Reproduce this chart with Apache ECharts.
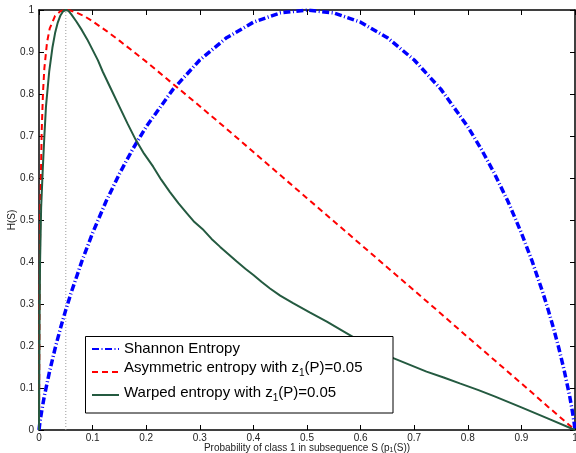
<!DOCTYPE html>
<html>
<head>
<meta charset="utf-8">
<script src="https://cdn.jsdelivr.net/npm/echarts@6/dist/echarts.min.js"></script>
<style>
html,body{margin:0;padding:0;background:#fff;}
#c{width:576px;height:453px;}
</style>
</head>
<body>
<div id="c"></div>
<script>
// ---- data ----
var seriesNames = ['Shannon Entropy', 'Asymmetric entropy with z1(P)=0.05', 'Warped entropy with z1(P)=0.05'];

var shannonX = [0, 0.002, 0.005, 0.01, 0.02, 0.03, 0.04, 0.05, 0.06, 0.08, 0.1, 0.125, 0.15, 0.175, 0.2, 0.25, 0.3, 0.35, 0.4, 0.45, 0.5,
                0.55, 0.6, 0.65, 0.7, 0.75, 0.8, 0.825, 0.85, 0.875, 0.9, 0.92, 0.94, 0.95, 0.96, 0.97, 0.98, 0.99, 0.995, 0.998, 1];
var shannonY = [0, 0.021, 0.045, 0.081, 0.141, 0.194, 0.242, 0.286, 0.327, 0.402, 0.469, 0.544, 0.610, 0.669, 0.722, 0.811, 0.881, 0.934, 0.971, 0.993, 1,
                0.993, 0.971, 0.934, 0.881, 0.811, 0.722, 0.669, 0.610, 0.544, 0.469, 0.402, 0.327, 0.286, 0.242, 0.194, 0.141, 0.081, 0.045, 0.021, 0];

var asymX = [0, 0.001, 0.0025, 0.005, 0.0075, 0.01, 0.015, 0.02, 0.03, 0.04, 0.05, 0.06, 0.07, 0.085, 0.1, 0.125, 0.15, 0.2, 0.25, 0.3, 0.35, 0.4,
             0.45, 0.5, 0.55, 0.6, 0.65, 0.7, 0.75, 0.8, 0.85, 0.9, 0.95, 1];
var asymY = [0, 0.294, 0.525, 0.711, 0.805, 0.861, 0.923, 0.956, 0.986, 0.997, 1, 0.998, 0.994, 0.985, 0.973, 0.951, 0.927, 0.877, 0.824, 0.771, 0.717, 0.662,
             0.607, 0.552, 0.497, 0.442, 0.387, 0.332, 0.277, 0.221, 0.166, 0.111, 0.055, 0];

var warpX = [0, 0.001, 0.002, 0.004, 0.007, 0.01, 0.013, 0.019, 0.025, 0.03, 0.035, 0.04, 0.045, 0.05, 0.055, 0.06, 0.07, 0.08, 0.09, 0.1, 0.11, 0.119,
             0.135, 0.15, 0.165, 0.18, 0.196, 0.213, 0.228, 0.244, 0.26, 0.276, 0.29, 0.307, 0.322, 0.338, 0.354, 0.369, 0.385, 0.4, 0.415, 0.431, 0.45, 0.474,
             0.505, 0.537, 0.568, 0.6, 0.63, 0.661, 0.692, 0.723, 0.755, 0.785, 0.82, 0.85, 0.9, 0.95, 1];
var warpY = [0, 0.25, 0.4, 0.53, 0.62, 0.7, 0.77, 0.853, 0.91, 0.945, 0.97, 0.987, 0.997, 1, 0.998, 0.99, 0.972, 0.952, 0.93, 0.905, 0.88, 0.853,
             0.81, 0.77, 0.73, 0.692, 0.658, 0.627, 0.596, 0.567, 0.54, 0.516, 0.495, 0.476, 0.455, 0.436, 0.418, 0.401, 0.384, 0.369, 0.353, 0.337, 0.32, 0.302,
             0.28, 0.258, 0.235, 0.211, 0.19, 0.171, 0.155, 0.139, 0.125, 0.111, 0.095, 0.08, 0.054, 0.027, 0];

var zMarkX = [0.05, 0.05];
var zMarkY = [0, 1];

function pairs(xs, ys){ return xs.map(function(x,i){ return [x, ys[i]]; }); }

var FONT = '"Liberation Sans", Arial, Helvetica, sans-serif';

function legendFmt(name){
  var i = name.indexOf('z1(');
  if (i < 0) return name;
  return name.slice(0, i) + 'z{s|1}' + name.slice(i + 2);
}
function legendDef(name, top, padBottom){
  return {
    data: [name],
    orient: 'vertical',
    left: 91, top: top,
    padding: 0,
    itemWidth: 27, itemHeight: 12,
    z: 5,
    formatter: legendFmt,
    selectedMode: false,
    itemStyle: { opacity: 0 },
    textStyle: {
      fontFamily: FONT, fontSize: 15, color: '#000', lineHeight: 20,
      padding: [0, 0, padBottom, 0],
      rich: { s: { fontFamily: FONT, fontSize: 10, lineHeight: 10, verticalAlign: 'bottom', color: '#000' } }
    }
  };
}

var axisLineStyle = { color: '#000', width: 1.5 };
var labelStyle = { fontFamily: FONT, fontSize: 10, color: '#222' };

var chart = echarts.init(document.getElementById('c'), null, { renderer: 'canvas' });
chart.setOption({
  animation: false,
  backgroundColor: '#fff',
  grid: { left: 39, right: 1, top: 10, bottom: 23, containLabel: false, outerBoundsMode: 'none' },
  xAxis: [
    { type: 'value', min: 0, max: 1, interval: 0.1, position: 'bottom',
      axisLine: { show: true, onZero: false, lineStyle: axisLineStyle },
      axisTick: { show: true, inside: true, length: 5, lineStyle: { color: '#000', width: 1 } },
      axisLabel: Object.assign({ margin: 3 }, labelStyle),
      splitLine: { show: false },
      name: 'Probability of class 1 in subsequence S (p{s|1}(S))',
      nameLocation: 'middle', nameGap: 12, nameMoveOverlap: false,
      nameTextStyle: { fontFamily: FONT, fontSize: 10, color: '#222', lineHeight: 12,
        rich: { s: { fontFamily: FONT, fontSize: 7, lineHeight: 6, verticalAlign: 'bottom', color: '#222' } } }
    },
    { type: 'value', min: 0, max: 1, interval: 0.1, position: 'top',
      axisLine: { show: true, onZero: false, lineStyle: axisLineStyle },
      axisTick: { show: true, inside: true, length: 5, lineStyle: { color: '#000', width: 1 } },
      axisLabel: { show: false }, splitLine: { show: false }
    }
  ],
  yAxis: [
    { type: 'value', min: 0, max: 1, interval: 0.1, position: 'left',
      axisLine: { show: true, onZero: false, lineStyle: axisLineStyle },
      axisTick: { show: true, inside: true, length: 5, lineStyle: { color: '#000', width: 1 } },
      axisLabel: Object.assign({ margin: 5 }, labelStyle),
      splitLine: { show: false },
      name: 'H(S)', nameLocation: 'middle', nameGap: 21, nameRotate: 90, nameMoveOverlap: false,
      nameTextStyle: { fontFamily: FONT, fontSize: 10, color: '#222', lineHeight: 12 }
    },
    { type: 'value', min: 0, max: 1, interval: 0.1, position: 'right',
      axisLine: { show: true, onZero: false, lineStyle: axisLineStyle },
      axisTick: { show: true, inside: true, length: 5, lineStyle: { color: '#000', width: 1 } },
      axisLabel: { show: false }, splitLine: { show: false }
    }
  ],
  legend: [
    legendDef(seriesNames[0], 339, 0),
    legendDef(seriesNames[1], 358, 8),
    legendDef(seriesNames[2], 383, 4)
  ],
  graphic: [{
    type: 'rect', z: 3,
    shape: { x: 85.5, y: 336.5, width: 307.5, height: 76.5 },
    style: { fill: '#fff', stroke: '#000', lineWidth: 1 }
  }],
  series: [
    { name: 'zmark', type: 'line', data: pairs(zMarkX, zMarkY), showSymbol: false, symbol: 'none', z: 1, silent: true,
      lineStyle: { color: '#9a9a9a', width: 1, type: [1, 2] } },
    { name: seriesNames[0], type: 'line', data: pairs(shannonX, shannonY), symbol: 'none', showSymbol: false, z: 2,
      lineStyle: { color: '#0000ff', width: 3.5, type: [7, 2.5, 1, 2.5] }, itemStyle: { color: '#0000ff' } },
    { name: seriesNames[1], type: 'line', data: pairs(asymX, asymY), symbol: 'none', showSymbol: false, z: 2,
      lineStyle: { color: '#ff0000', width: 2, type: [6, 4] }, itemStyle: { color: '#ff0000' } },
    { name: seriesNames[2], type: 'line', data: pairs(warpX, warpY), symbol: 'none', showSymbol: false, z: 2,
      lineStyle: { color: '#245a40', width: 2, type: 'solid' }, itemStyle: { color: '#245a40' } }
  ]
});
</script>
</body>
</html>
